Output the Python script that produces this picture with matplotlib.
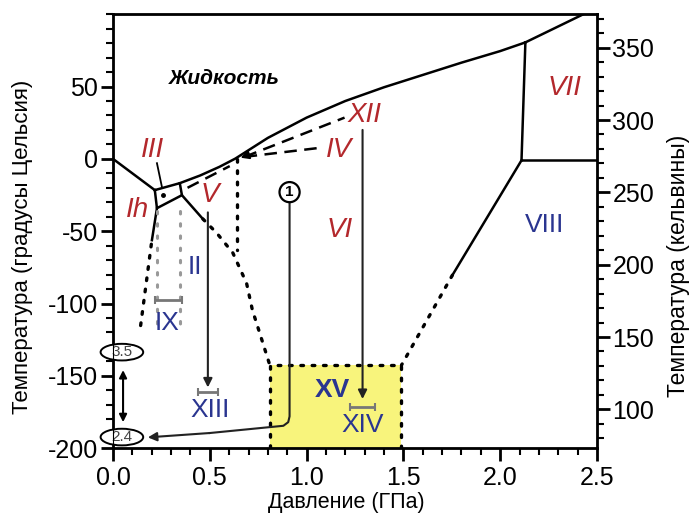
import numpy as np
import matplotlib.pyplot as plt
from matplotlib.patches import Ellipse, Rectangle

plt.rcParams['font.family'] = ['Liberation Sans', 'DejaVu Sans']
plt.rcParams['axes.unicode_minus'] = False

# phase boundaries (pressure GPa, temperature C)
liq_ih_p, liq_ih_t = [0.0, 0.216], [0.0, -21.6]
box_p = [0.216, 0.345, 0.356, 0.227, 0.216]
box_t = [-21.6, -16.8, -25.1, -34.1, -21.6]
melt_p = [0.345, 0.45, 0.55, 0.632, 0.8, 1.0, 1.2, 1.4, 1.6, 1.8, 2.0, 2.13]
melt_t = [-16.8, -11.5, -5.5, 0.2, 14.5, 28.5, 40.0, 49.5, 58.0, 66.5, 74.5, 80.5]
vii_melt_p, vii_melt_t = [2.13, 2.43], [80.5, 100.0]
vi_vii_p, vi_vii_t = [2.13, 2.11], [80.5, -1.0]
vii_viii_p, vii_viii_t = [2.11, 2.5], [-1.0, -1.0]
vi_viii_p, vi_viii_t = [2.11, 1.753], [-1.0, -80.4]
vi_viii_dot_p, vi_viii_dot_t = [1.753, 1.49], [-80.4, -142.6]
ih_ii_p, ih_ii_t = [0.227, 0.201], [-34.1, -56.2]
ih_ii_dot_p, ih_ii_dot_t = [0.198, 0.14], [-59.0, -118.0]
ii_v_p, ii_v_t = [0.356, 0.464], [-25.1, -41.5]
ii_vi_dot_p = [0.464, 0.536, 0.619, 0.69, 0.72, 0.758, 0.81]
ii_vi_dot_t = [-41.5, -51.3, -65.0, -86.0, -104.5, -120.5, -142.6]
v_vi_dot_p, v_vi_dot_t = [0.639, 0.639], [0.0, -63.0]
ix_dot_p = [0.227, 0.345]
ix_dot_t = [-36.0, -117.0]
iii_v_dash_p, iii_v_dash_t = [0.385, 0.603], [-20.0, -5.0]
xii_dash_p, xii_dash_t = [0.68, 1.196], [1.4, 28.5]
iv_dash_p, iv_dash_t = [0.68, 1.067], [1.4, 7.6]

# yellow XV region
xv_p = [0.81, 1.49]
xv_t = [-200.0, -142.6]

# path 1
path1_p = [0.912, 0.912, 0.905, 0.88, 0.5, 0.18]
path1_t = [-23.0, -178.0, -182.0, -184.5, -189.5, -192.5]

labels = [
    ('Жидкость', 0.577, 55.8, 'black'),
    ('III', 0.206, 6.0, 'red'), ('Ih', 0.124, -35.5, 'red'),
    ('V', 0.50, -25.0, 'red'), ('VI', 1.17, -49.0, 'red'),
    ('XII', 1.30, 30.0, 'red'), ('IV', 1.17, 6.0, 'red'),
    ('VII', 2.33, 49.0, 'red'),
    ('II', 0.423, -75.0, 'blue'), ('IX', 0.28, -113.5, 'blue'),
    ('XIII', 0.50, -173.7, 'blue'), ('VIII', 2.227, -45.8, 'blue'),
    ('XV', 1.134, -159.8, 'blue'), ('XIV', 1.289, -184.0, 'blue'),
]
colors = {'red': '#b3282c', 'blue': '#2a3590', 'black': 'black'}

fig = plt.figure(figsize=(6.89, 5.14), dpi=100)
ax = fig.add_axes([0.164, 0.128, 0.7025, 0.8444])
ax.set_xlim(0, 2.5)
ax.set_ylim(-200, 100)

ax.add_patch(Rectangle((xv_p[0], xv_t[0]), xv_p[1] - xv_p[0], xv_t[1] - xv_t[0],
                       facecolor='#f8f47c', edgecolor='none', zorder=0))
dot = dict(color='black', lw=2.4, linestyle=(0, (0.8, 2.6)), dash_capstyle='round')
ax.plot([xv_p[0], xv_p[0], xv_p[1], xv_p[1]], [xv_t[0], xv_t[1], xv_t[1], xv_t[0]], **dot)

solid = dict(color='black', lw=1.8)
for p, t in [(liq_ih_p, liq_ih_t), (box_p, box_t), (melt_p, melt_t),
             (vii_melt_p, vii_melt_t), (vi_vii_p, vi_vii_t), (vii_viii_p, vii_viii_t),
             (vi_viii_p, vi_viii_t), (ih_ii_p, ih_ii_t), (ii_v_p, ii_v_t)]:
    ax.plot(p, t, **solid)
for p, t in [(vi_viii_dot_p, vi_viii_dot_t), (ih_ii_dot_p, ih_ii_dot_t),
             (ii_vi_dot_p, ii_vi_dot_t), (v_vi_dot_p, v_vi_dot_t)]:
    ax.plot(p, t, **dot)
for p in ix_dot_p:
    ax.plot([p, p], ix_dot_t, color='#999999', lw=2.2, linestyle=(0, (0.8, 3.2)),
            dash_capstyle='round')

dash = dict(color='black', lw=1.8, dashes=(5, 3))
for p, t in [(iii_v_dash_p, iii_v_dash_t), (xii_dash_p, xii_dash_t), (iv_dash_p, iv_dash_t)]:
    ax.plot(p, t, **dash)
ax.annotate('', xy=(0.645, 0.2), xytext=(0.72, 3.5),
            arrowprops=dict(arrowstyle='-|>', color='black', lw=1.5, mutation_scale=12))

# III leader line and dot
ax.plot([0.227, 0.253], [-3.0, -19.6], color='black', lw=1.3)
ax.plot([0.258], [-25.0], 'o', color='black', ms=2.5)

arr = dict(arrowstyle='-|>', color='#222222', lw=1.5, mutation_scale=13, shrinkA=0, shrinkB=0)
ax.annotate('', xy=(0.49, -158), xytext=(0.49, -37), arrowprops=arr)
ax.annotate('', xy=(1.289, -166), xytext=(1.289, 20), arrowprops=arr)
ax.plot(path1_p[:-1], path1_t[:-1], color='#222222', lw=1.5)
ax.annotate('', xy=(path1_p[-1], path1_t[-1]), xytext=(path1_p[-2], path1_t[-2]), arrowprops=arr)
ax.annotate('', xy=(0.052, -182), xytext=(0.052, -146),
            arrowprops=dict(arrowstyle='<|-|>', color='black', lw=1.5, mutation_scale=11,
                            shrinkA=0, shrinkB=0))

for xc, yc, hw in [(0.49, -161.0, 0.05), (1.289, -171.6, 0.064), (0.286, -97.6, 0.07)]:
    ax.errorbar([xc], [yc], xerr=[hw], color='#777777', lw=2, capsize=3, capthick=1.5)

ax.text(0.912, -23, '1', ha='center', va='center', fontsize=11, fontweight='bold',
        bbox=dict(boxstyle='circle,pad=0.2', fc='white', ec='black', lw=1.6))
for yc, s in [(-133.6, '3.5'), (-192.3, '2.4')]:
    ax.add_patch(Ellipse((0.046, yc), 0.22, 11.5, facecolor='white', edgecolor='black',
                         lw=1.4, clip_on=False, zorder=5))
    ax.text(0.046, yc, s, ha='center', va='center', fontsize=11, color='#444444', zorder=6)

for s, x, y, c in labels:
    if c == 'black':
        ax.text(x, y, s, ha='center', va='center', fontsize=15, style='italic',
                fontweight='bold', color='black')
    elif c == 'red':
        ax.text(x, y, s, ha='center', va='center', fontsize=20, style='italic', color=colors[c])
    else:
        fw = 'bold' if s == 'XV' else 'normal'
        ax.text(x, y, s, ha='center', va='center', fontsize=19, color=colors[c], fontweight=fw)

for sp in ax.spines.values():
    sp.set_linewidth(2)
ax.set_xticks([0.0, 0.5, 1.0, 1.5, 2.0, 2.5])
ax.set_xticks(np.arange(0, 2.51, 0.1), minor=True)
ax.set_yticks([-200, -150, -100, -50, 0, 50])
ax.set_yticks(np.arange(-200, 101, 10), minor=True)
ax.tick_params(which='major', length=9, width=2, labelsize=18, pad=2)
ax.tick_params(which='minor', length=5, width=1.5)
ax.tick_params(axis='x', which='major', pad=4)
ax.set_xlabel('Давление (ГПа)', fontsize=15.5)
ax.set_ylabel('Температура (градусы Цельсия)', fontsize=16)
ax.xaxis.set_label_coords(0.483, -0.1)
ax.yaxis.set_label_coords(-0.165, 0.465)

ax2 = ax.twinx()
ax2.set_ylim(-200 + 273.15, 100 + 273.15)
ax2.set_yticks([100, 150, 200, 250, 300, 350])
ax2.set_yticks(np.arange(80, 371, 10), minor=True)
ax2.tick_params(which='major', length=9, width=2, labelsize=18, pad=2)
ax2.tick_params(which='minor', length=5, width=1.5)
ax2.set_ylabel('Температура (кельвины)', fontsize=16.5, rotation=90)
ax2.yaxis.set_label_coords(1.145, 0.419)

fig.savefig('out.png', dpi=100)
